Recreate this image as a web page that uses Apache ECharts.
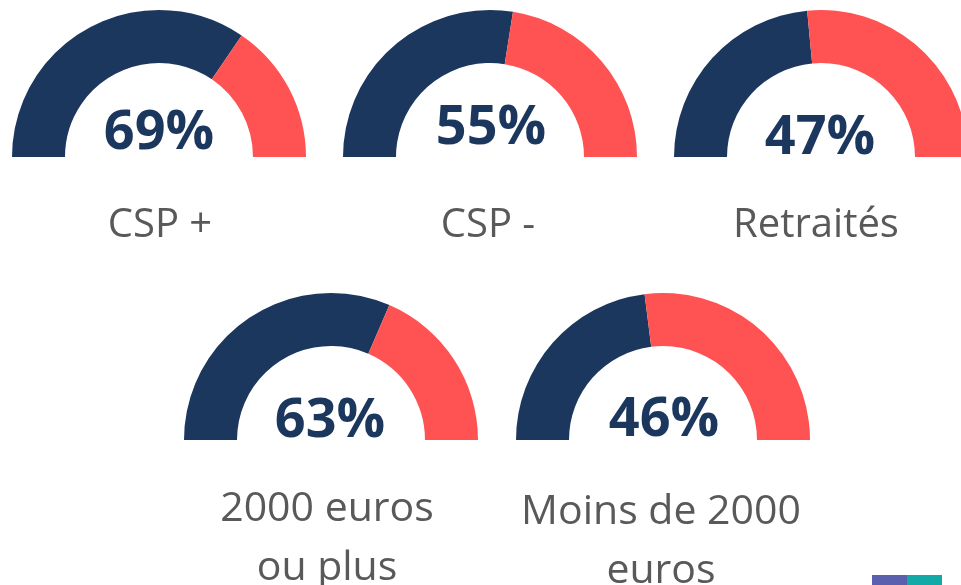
<!DOCTYPE html>
<html>
<head>
<meta charset="utf-8">
<script src="https://cdn.jsdelivr.net/npm/echarts@6/dist/echarts.min.js"></script>
<style>
html,body{margin:0;padding:0;background:#fff;}
#chart{width:961px;height:585px;}
</style>
</head>
<body>
<div id="chart"></div>
<script>
// Data
const categories = ['CSP +', 'CSP -', 'Retraités', '2000 euros\nou plus', 'Moins de 2000\neuros'];
const values = [69, 55, 47, 63, 46];
const percentLabels = ['69%', '55%', '47%', '63%', '46%'];

// Layout (positions kept separate from data)
const centers = [[159, 157], [490, 157], [821, 157], [331, 440], [663, 440]];
const pctPos = [[159, 134], [491, 129], [820, 139], [330, 422], [664, 421]];
const labelPos = [[160, 225.5], [488, 225.5], [816, 225.5], [327, 538.5], [661, 541.5]];

const NAVY = '#1c375e';
const RED = '#ff5252';

const chart = echarts.init(document.getElementById('chart'), null, {renderer: 'canvas'});

const series = values.map((v, i) => ({
  type: 'pie',
  center: centers[i],
  radius: [94, 147],
  startAngle: 180,
  clockwise: true,
  silent: true,
  animation: false,
  label: {show: false},
  labelLine: {show: false},
  emphasis: {disabled: true},
  data: [
    {value: v, itemStyle: {color: NAVY}},
    {value: 100 - v, itemStyle: {color: RED}},
    {value: 100, itemStyle: {color: 'rgba(0,0,0,0)'}}
  ]
}));

const graphics = [];
percentLabels.forEach((t, i) => {
  graphics.push({
    type: 'text', x: pctPos[i][0], y: pctPos[i][1], silent: true,
    style: {text: t, fill: NAVY, font: 'bold 54px "Open Sans"', align: 'center', verticalAlign: 'middle'}
  });
});
categories.forEach((t, i) => {
  graphics.push({
    type: 'text', x: labelPos[i][0], y: labelPos[i][1], silent: true,
    style: {text: t, fill: '#595959', font: (i < 3 ? '40px' : '41px') + ' "Open Sans"', lineHeight: 59, align: 'center', verticalAlign: 'middle'}
  });
});
// logo fragment bottom-right
graphics.push({type: 'rect', silent: true, shape: {x: 872, y: 575, width: 35, height: 10}, style: {fill: '#5a5fae'}});
graphics.push({type: 'rect', silent: true, shape: {x: 907, y: 575, width: 35, height: 10}, style: {fill: '#13a9a6'}});

chart.setOption({
  animation: false,
  series: series,
  graphic: graphics
});
</script>
</body>
</html>
